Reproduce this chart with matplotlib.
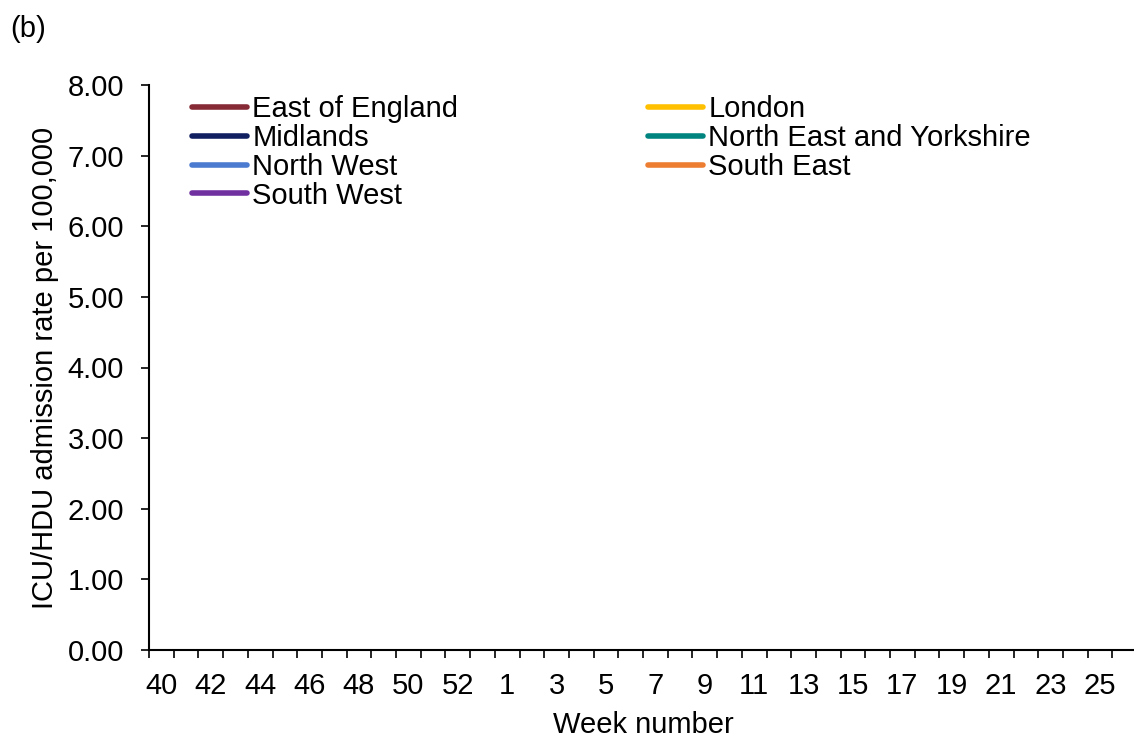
import matplotlib
matplotlib.use("Agg")
import matplotlib.pyplot as plt

plt.rcParams["font.family"] = ["Liberation Sans", "DejaVu Sans"]
FS = 21

# week axis: 40..53 then 1..26 (category axis)
weeks = list(range(40, 54)) + list(range(1, 27))
# regions and colours (no data points are plotted in the reference)
regions = ["East of England", "London", "Midlands", "North East and Yorkshire",
           "North West", "South East", "South West"]
colours = ["#862a36", "#ffc000", "#0f1f60", "#00847f", "#4a7bd0", "#ed7d31", "#7030a0"]
rates = {r: [] for r in regions}  # empty - chart shows no lines
yticks = [0, 1, 2, 3, 4, 5, 6, 7, 8]

fig = plt.figure(figsize=(11.34, 7.38), dpi=100)
ax = fig.add_axes([149 / 1134, 88 / 738, 988 / 1134, 565 / 738])

handles = {}
for r, c in zip(regions, colours):
    x = [weeks.index(w) for w in rates[r]]
    (h,) = ax.plot(x, rates[r], color=c, lw=4, solid_capstyle="round", label=r)
    handles[r] = h

ax.set_xlim(-0.5, len(weeks) - 0.5)
ax.set_ylim(0, 8)
ax.set_yticks(yticks)
ax.set_yticklabels([f"{v:.2f}" for v in yticks])

ax.set_xticks(range(0, len(weeks), 2))
ax.set_xticklabels([str(w) for w in weeks[::2]])
ax.set_xticks([i - 0.5 for i in range(len(weeks) + 1)], minor=True)
ax.tick_params(axis="x", which="major", length=0, pad=15.5, labelsize=FS)
ax.tick_params(axis="x", which="minor", length=6, width=1.2, direction="out")
ax.tick_params(axis="y", length=6, width=1.2, pad=12, labelsize=FS)

for s in ["top", "right"]:
    ax.spines[s].set_visible(False)
for s in ["left", "bottom"]:
    ax.spines[s].set_linewidth(1.5)

ax.set_xlabel("Week number", fontsize=FS, labelpad=8)
ax.set_ylabel("ICU/HDU admission rate per 100,000", fontsize=FS, labelpad=6)

col1 = ["East of England", "Midlands", "North West", "South West"]
col2 = ["London", "North East and Yorkshire", "South East"]
kw = dict(frameon=False, fontsize=FS, handlelength=1.9, handletextpad=0.17,
          labelspacing=0.03, borderpad=0, borderaxespad=0, loc="upper left")
leg1 = ax.legend([handles[r] for r in col1], col1,
                 bbox_to_anchor=(192 / 1134, 1 - 95 / 738), bbox_transform=fig.transFigure, **kw)
ax.add_artist(leg1)
ax.legend([handles[r] for r in col2], col2,
          bbox_to_anchor=(648 / 1134, 1 - 95 / 738), bbox_transform=fig.transFigure, **kw)

fig.text(10 / 1134, 1 - 29 / 738, "(b)", fontsize=FS, va="center", ha="left")

fig.savefig("out.png", dpi=100)
